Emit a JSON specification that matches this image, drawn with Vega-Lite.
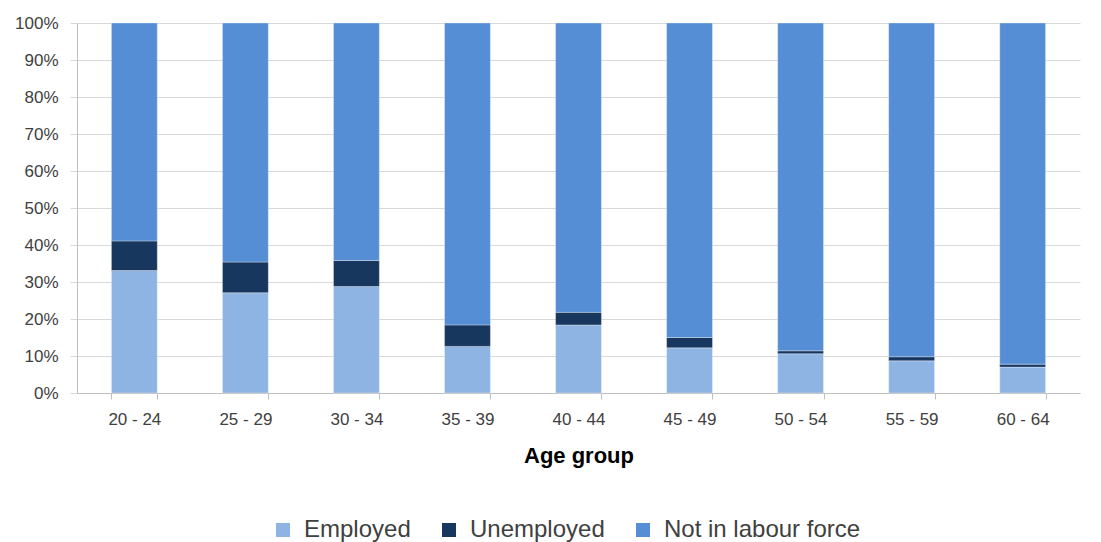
{
  "$schema": "https://vega.github.io/schema/vega-lite/v6.json",
  "width": 1003,
  "height": 370,
  "autosize": {"type": "none"},
  "padding": {"left": 77, "top": 23, "right": 21, "bottom": 149},
  "background": "white",
  "config": {
    "view": {"stroke": null},
    "font": "Liberation Sans",
    "axis": {"labelColor": "#404040", "labelFontSize": 17, "labelFont": "Liberation Sans"}
  },
  "data": {
    "values": [
      {"age": "20 - 24", "status": "Employed", "value": 33.1},
      {"age": "20 - 24", "status": "Unemployed", "value": 8.0},
      {"age": "20 - 24", "status": "Not in labour force", "value": 58.9},
      {"age": "25 - 29", "status": "Employed", "value": 27.1},
      {"age": "25 - 29", "status": "Unemployed", "value": 8.3},
      {"age": "25 - 29", "status": "Not in labour force", "value": 64.6},
      {"age": "30 - 34", "status": "Employed", "value": 28.8},
      {"age": "30 - 34", "status": "Unemployed", "value": 7.0},
      {"age": "30 - 34", "status": "Not in labour force", "value": 64.2},
      {"age": "35 - 39", "status": "Employed", "value": 12.6},
      {"age": "35 - 39", "status": "Unemployed", "value": 5.8},
      {"age": "35 - 39", "status": "Not in labour force", "value": 81.6},
      {"age": "40 - 44", "status": "Employed", "value": 18.4},
      {"age": "40 - 44", "status": "Unemployed", "value": 3.4},
      {"age": "40 - 44", "status": "Not in labour force", "value": 78.2},
      {"age": "45 - 49", "status": "Employed", "value": 12.2},
      {"age": "45 - 49", "status": "Unemployed", "value": 2.8},
      {"age": "45 - 49", "status": "Not in labour force", "value": 85.0},
      {"age": "50 - 54", "status": "Employed", "value": 10.6},
      {"age": "50 - 54", "status": "Unemployed", "value": 0.8},
      {"age": "50 - 54", "status": "Not in labour force", "value": 88.6},
      {"age": "55 - 59", "status": "Employed", "value": 8.7},
      {"age": "55 - 59", "status": "Unemployed", "value": 1.1},
      {"age": "55 - 59", "status": "Not in labour force", "value": 90.2},
      {"age": "60 - 64", "status": "Employed", "value": 7.0},
      {"age": "60 - 64", "status": "Unemployed", "value": 0.8},
      {"age": "60 - 64", "status": "Not in labour force", "value": 92.2}
    ]
  },
  "transform": [
    {"calculate": "indexof(['Employed','Unemployed','Not in labour force'], datum.status)", "as": "ord"}
  ],
  "mark": {"type": "bar", "stroke": "#ffffff", "strokeOpacity": 0.4, "strokeWidth": 0.8},
  "encoding": {
    "x": {
      "field": "age", "type": "nominal", "sort": null,
      "scale": {"paddingInner": 0.587, "paddingOuter": 0.31},
      "axis": {
        "title": "Age group", "titleFontSize": 22, "titleFontWeight": "bold", "titleColor": "#000000",
        "titlePadding": 18,
        "labelAngle": 0, "labelPadding": 12,
        "domainColor": "#bfbfbf", "tickColor": "#bfbfbf", "tickSize": 6, "tickBand": "extent",
        "grid": false
      }
    },
    "y": {
      "field": "value", "type": "quantitative", "stack": "zero",
      "scale": {"domain": [0, 100], "nice": false},
      "axis": {
        "title": null, "values": [0,10,20,30,40,50,60,70,80,90,100],
        "labelExpr": "datum.value + '%'",
        "gridColor": "#d9d9d9", "domainColor": "#bfbfbf", "tickColor": "#d9d9d9",
        "tickSize": 7, "labelPadding": 12
      }
    },
    "color": {
      "field": "status", "type": "nominal",
      "scale": {"domain": ["Employed", "Unemployed", "Not in labour force"], "range": ["#8EB4E3", "#17375E", "#558ED5"]},
      "legend": {
        "title": null, "orient": "none", "direction": "horizontal",
        "legendX": 194, "legendY": 495,
        "symbolType": "square", "symbolSize": 196, "symbolStrokeWidth": 0,
        "labelFontSize": 24, "labelColor": "#404040", "labelFont": "Liberation Sans", "labelLimit": 400,
        "columnPadding": 26, "labelOffset": 9
      }
    },
    "order": {"field": "ord", "type": "quantitative"}
  }
}
